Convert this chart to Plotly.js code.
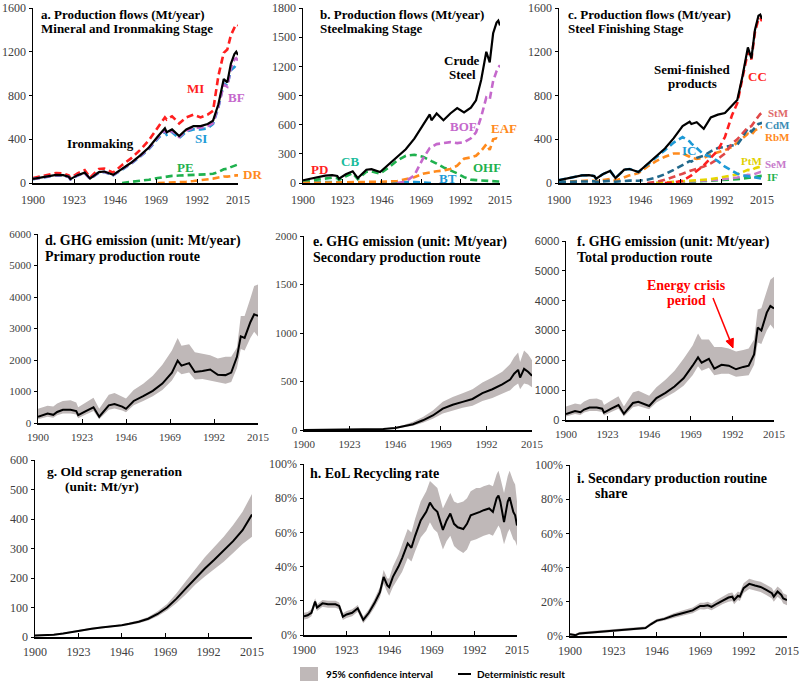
<!DOCTYPE html>
<html><head><meta charset="utf-8">
<script src="https://cdn.plot.ly/plotly-3.0.1.min.js"></script>
<style>html,body{margin:0;padding:0;background:#fff}#chart{width:800px;height:682px}</style>
</head><body><div id="chart"></div><script>
// ---------- DATA ----------
const N = null;
const yearsTop = [1900,1905,1910,1913,1917,1920,1921,1925,1929,1932,1937,1940,1945,1950,1955,1960,1965,1970,1974,1975,1978,1982,1986,1990,1994,1998,2001,2004,2007,2009,2011,2013,2014,2015];
const xTickYears = [1900,1923,1946,1969,1992,2015];
// panel a
const ironmaking = [38,52,62,75,72,58,35,72,95,40,100,105,75,130,185,250,325,425,500,465,490,430,490,520,520,540,570,720,950,920,1090,1180,1200,1170];
const MI = [45,62,75,92,88,70,45,88,118,50,128,132,95,165,225,300,390,510,600,580,610,545,600,625,600,625,660,980,1190,1220,1350,1420,1450,1440];
const SI = [35,48,58,70,68,55,33,68,90,38,95,100,70,125,175,240,310,405,470,440,465,410,470,490,490,500,540,690,910,890,1030,1060,1080,1070];
const BF = [36,50,60,72,70,56,34,70,92,39,97,102,73,127,180,245,318,415,485,450,478,420,478,505,505,520,548,700,900,880,1050,1130,1140,1120];
const PE = [N,N,N,N,N,N,N,N,N,N,N,N,N,0,8,18,30,45,58,60,65,68,70,72,75,80,85,100,125,130,145,160,165,170];
const DR = [N,N,N,N,N,N,N,N,N,N,N,N,N,N,N,N,N,0,2,3,5,8,12,18,25,35,40,50,60,58,65,68,70,70];
// panel b
const crudeSteel = [28,45,60,76,80,72,45,90,121,50,136,142,113,190,270,347,456,595,705,645,715,645,715,770,725,775,850,1060,1350,1240,1540,1650,1670,1620];
const BOF = [N,N,N,N,N,N,N,N,N,N,N,N,N,N,0,15,80,250,360,370,400,410,420,410,420,460,520,680,880,860,1050,1150,1190,1210];
const EAF = [0,1,2,3,4,4,3,5,7,4,8,10,12,15,20,40,60,95,110,112,120,128,145,178,250,263,280,330,398,340,450,460,450,430];
const OHF = [15,25,35,45,55,50,30,70,100,40,115,120,95,160,230,280,290,270,230,225,200,160,130,100,60,35,30,25,20,20,18,15,15,15];
const CB = [10,12,12,12,10,8,6,8,8,4,6,6,4,4,3,2,1,0,N,N,N,N,N,N,N,N,N,N,N,N,N,N,N,N];
const PD = [3,2,2,2,1,1,1,1,1,0,N,N,N,N,N,N,N,N,N,N,N,N,N,N,N,N,N,N,N,N,N,N,N,N];
const BT = [0,0,0,1,1,1,1,1,2,1,2,3,3,5,8,10,10,5,2,0,N,N,N,N,N,N,N,N,N,N,N,N,N,N];
// panel c
const semiFinished = [26,42,55,70,72,63,40,82,110,45,122,128,100,170,245,315,410,520,560,540,555,495,600,625,640,705,760,980,1240,1140,1400,1530,1540,1500];
const CC = [N,N,N,N,N,N,N,N,N,N,N,N,N,N,N,0,5,20,60,70,110,160,230,300,420,620,730,950,1200,1130,1380,1500,1510,1480];
const IC = [26,42,55,70,72,63,40,82,110,45,122,128,100,165,235,300,370,420,380,360,320,260,240,200,150,110,85,70,60,55,50,45,42,40];
const StM = [N,N,N,N,N,N,N,N,N,N,N,N,N,0,10,30,55,85,110,115,130,150,180,220,270,360,400,460,510,520,570,610,630,640];
const CdM = [10,12,15,15,15,15,10,18,20,12,20,22,20,30,50,80,120,165,200,195,230,250,290,320,330,340,350,420,500,470,510,540,545,550];
const RbM = [10,15,20,22,22,20,15,28,38,22,55,70,90,150,200,240,270,270,240,230,220,230,260,280,300,330,370,410,450,440,480,500,510,510];
const PtM = [N,N,N,N,N,N,N,N,N,N,N,N,N,N,0,5,10,20,25,25,28,30,35,45,55,70,80,100,120,115,135,145,150,150];
const SeM = [N,N,N,N,N,N,N,N,N,N,N,N,N,N,0,3,8,15,18,18,20,22,25,30,35,45,50,60,75,72,85,95,100,100];
const IF = [N,N,N,N,N,N,N,N,N,N,N,N,N,N,0,2,5,10,12,12,15,18,20,25,28,32,35,40,50,48,55,62,65,65];
// panels d & f
const yearsDF = [1900,1905,1908,1910,1913,1917,1920,1921,1925,1929,1932,1937,1940,1944,1946,1950,1955,1960,1965,1970,1973,1975,1979,1982,1986,1990,1994,1998,2001,2004,2006,2008,2011,2013,2015];
const ghgPrimary = [200,300,260,350,420,420,380,250,380,500,200,560,600,520,450,700,850,1020,1250,1600,1980,1820,1900,1620,1650,1700,1530,1520,1600,2100,2750,2700,3200,3450,3400];
const ghgPrimaryHi = [450,550,520,620,700,720,650,500,650,800,450,900,950,850,780,1050,1250,1500,1850,2300,2700,2450,2500,2250,2200,2150,2050,2100,2100,2400,3400,3400,3950,4350,4400];
const ghgPrimaryLo = [120,200,170,250,300,300,270,150,270,380,120,420,460,400,340,560,700,850,1050,1350,1650,1550,1600,1380,1400,1350,1280,1250,1300,1750,2350,2300,2700,2900,2750];
const ghgTotal = [200,300,260,350,420,420,380,250,380,500,205,570,610,530,470,735,910,1120,1400,1820,2100,1920,2050,1720,1850,1820,1700,1780,1820,2200,3100,3000,3600,3820,3740];
const ghgTotalHi = [450,550,520,620,700,720,650,500,650,800,450,920,980,880,810,1100,1350,1650,2050,2500,2900,2700,2700,2450,2450,2400,2300,2350,2400,2700,3700,3750,4300,4700,4800];
const ghgTotalLo = [120,200,170,250,300,300,270,150,270,380,120,430,470,410,360,590,750,930,1150,1500,1800,1650,1750,1500,1550,1550,1450,1480,1500,1850,2600,2550,3000,3200,3050];
// panel e
const yearsE = [1900,1920,1935,1940,1946,1950,1955,1960,1965,1970,1975,1980,1985,1990,1995,2000,2004,2006,2008,2009,2011,2013,2015];
const ghgSecondary = [0,2,5,10,20,35,60,100,150,220,260,290,320,380,420,470,520,580,620,540,630,600,560];
const ghgSecondaryHi = [0,3,8,15,30,50,85,135,200,290,340,380,420,490,540,600,680,750,800,700,820,780,720];
const ghgSecondaryLo = [0,1,3,7,14,25,45,75,115,170,200,230,250,300,330,370,410,450,480,420,480,470,440];
// panel g
const yearsG = [1900,1905,1910,1915,1920,1925,1930,1935,1940,1946,1950,1955,1960,1965,1970,1975,1980,1985,1990,1995,2000,2005,2010,2015];
const oldScrap = [5,6,8,12,18,24,28,32,35,40,45,52,62,78,100,130,165,200,232,262,292,325,362,415];
const oldScrapHi = [8,9,11,15,21,27,31,35,38,43,49,57,68,87,112,148,190,230,270,305,340,380,425,485];
const oldScrapLo = [2,3,5,9,15,21,25,29,32,37,41,47,56,70,90,115,145,178,205,230,255,285,315,340];
// panel h
const yearsH = [1900,1902,1904,1906,1907,1910,1913,1917,1919,1921,1923,1926,1929,1932,1935,1938,1941,1943,1945,1946,1948,1951,1953,1956,1958,1960,1963,1966,1968,1970,1972,1975,1977,1979,1981,1983,1986,1988,1990,1993,1995,1997,2000,2002,2004,2005,2006,2008,2010,2011,2013,2014,2015];
const eolRate = [11,11.5,13,19.5,16,18.5,18,18,17,10.7,12,13,15.6,8.8,13,18.5,25,34,29,28,34,40,45,53.6,51,58,67,72,77.4,74,72,61.5,67,71,65,63,62,65,70,71,72,73,74,72,80,81.5,78,66,78,80.5,72,70,64];
const eolRateHi = [13,13.5,15,21.5,18,20.5,20,20,19,12.7,14,15,17.6,10.8,15,21,28,38,33,33,40,47,53,62,60,68,78,84,90,88,86,74,79,83,78,77,78,80,84,86,86,87,88,87,94,96,92,83,93,96,90,88,78];
const eolRateLo = [9,9.5,11,17.5,14,16.5,16,16,15,8.7,10,11,13.6,6.8,11,16,22,30,25,23,28,33,37,45,43,49,57,61,66,62,60,50,55,58,52,50,48,50,55,56,57,58,59,58,62,64,62,53,60,62,56,55,52];
// panel i
const yearsI = [1900,1903,1905,1910,1915,1920,1925,1930,1935,1940,1943,1946,1950,1955,1960,1965,1969,1971,1973,1975,1978,1981,1984,1986,1987,1989,1990,1992,1995,1998,2001,2004,2007,2008,2010,2012,2013,2015];
const secShare = [1,0.5,1.5,2,2.5,3,3.5,4,4.2,4.7,7,9,10,12,13.5,15,17.6,17.5,18,17,19,21,22.5,23,21,23.5,23,28,30.5,29.5,28.7,27,25,23,26,24,22,21];
const secShareHi = [1.8,1.3,2.3,2.8,3.3,3.8,4.3,4.8,5,5.5,8,10,11,13.3,15,16.7,19.5,19.5,20,19,21.2,23.3,25,25.5,23.5,26,25.5,30.8,33.5,32.5,31.7,30,28,26,29,27,25,24];
const secShareLo = [0.2,0,0.7,1.2,1.7,2.2,2.7,3.2,3.4,3.9,6,8,9,10.7,12,13.3,15.7,15.5,16,15,16.8,18.7,20,20.5,18.5,21,20.5,25.2,27.5,26.5,25.7,24,22,20,23,21,19,18];

// ---------- LAYOUT HELPERS ----------
const W = 800, H = 682;
const px = x => x / W, py = y => 1 - y / H;
const SERIF = 'Liberation Serif, Times New Roman, serif';
const PANELS = {
  a:{n:1, x:[33,238],  y:[8,183],   r:[0,1600], dt:400,  fs:12, so:5},
  b:{n:2, x:[303,500], y:[8,183],   r:[0,1800], dt:300,  fs:12, so:5},
  c:{n:3, x:[559,762], y:[8,183],   r:[0,1600], dt:400,  fs:12, so:5},
  d:{n:4, x:[38,258],  y:[234,423], r:[0,6000], dt:1000, fs:11, so:3},
  e:{n:5, x:[304,532], y:[236,430], r:[0,2000], dt:500,  fs:11, so:3},
  f:{n:6, x:[566,774], y:[241,420], r:[0,6000], dt:1000, fs:11, so:3, yfam:'Liberation Sans, Arial, sans-serif'},
  g:{n:7, x:[35,252],  y:[460,637], r:[0,600],  dt:100,  fs:12, so:3},
  h:{n:8, x:[304,517], y:[464,635], r:[0,100],  dt:20,   fs:12, so:3, pct:true},
  i:{n:9, x:[570,787], y:[465,636], r:[0,100],  dt:20,   fs:12, so:3, pct:true}
};
const C = {red:'#FF1F1F', purple:'#C569CC', blue:'#1E9AD6', green:'#1FB14E', orange:'#FF8A1C', teal:'#1ABC9C',
  stm:'#E04848', cdm:'#22698C', ptm:'#E6D600', sem:'#C77BCB', band:'#BFB8B8'};

const layout = {width:W, height:H, margin:{l:0,r:0,t:0,b:0}, paper_bgcolor:'#fff', plot_bgcolor:'rgba(0,0,0,0)',
  showlegend:false, annotations:[], shapes:[]};
const traces = [];

Object.keys(PANELS).forEach(k => {
  const p = PANELS[k];
  const xa = 'xaxis' + (p.n === 1 ? '' : p.n), ya = 'yaxis' + (p.n === 1 ? '' : p.n);
  const tv = []; for (let v = p.r[0]; v <= p.r[1] + 1e-9; v += p.dt) tv.push(v);
  layout[xa] = {domain:[px(p.x[0]), px(p.x[1])], anchor:'y' + (p.n === 1 ? '' : p.n), range:[1900,2015],
    tickvals:xTickYears, ticks:'inside', ticklen:4, tickcolor:'#000', showline:true, linecolor:'#000', linewidth:1.5,
    showgrid:false, zeroline:false, ticklabelstandoff:p.so, ticklabeloverflow:'allow',
    tickfont:{family:SERIF, size:p.fs, color:'#404040'}, fixedrange:true};
  layout[ya] = {domain:[py(p.y[1]), py(p.y[0])], anchor:'x' + (p.n === 1 ? '' : p.n), range:p.r,
    tickmode:'array', tickvals:tv, ticktext:tv.map(v => p.pct ? v + '%' : String(v)),
    ticks:'outside', ticklen:3, tickcolor:'#000', showline:true, linecolor:'#000', linewidth:1.5,
    showgrid:false, zeroline:false, ticklabeloverflow:'allow',
    tickfont:{family:p.yfam || SERIF, size:p.fs, color:'#404040'}, fixedrange:true};
});

function ax(k){ const n = PANELS[k].n; return n === 1 ? ['x','y'] : ['x'+n, 'y'+n]; }
function line(k, xs, ys, color, dashed, width){
  const [xr, yr] = ax(k);
  traces.push({type:'scatter', mode:'lines', x:xs, y:ys, xaxis:xr, yaxis:yr, hoverinfo:'skip',
    line:{color:color, width:width || (dashed ? 2.6 : 2.2), dash:dashed ? '7px,4px' : 'solid'}, connectgaps:false});
}
function band(k, xs, lo, hi, mid){
  const [xr, yr] = ax(k);
  traces.push({type:'scatter', mode:'lines', x:xs, y:lo, xaxis:xr, yaxis:yr, line:{width:0, color:C.band}, hoverinfo:'skip'});
  traces.push({type:'scatter', mode:'lines', x:xs, y:hi, xaxis:xr, yaxis:yr, line:{width:0, color:C.band}, fill:'tonexty', fillcolor:C.band, hoverinfo:'skip'});
  line(k, xs, mid, '#000', false, 2);
}
function txt(t, x, y, color, size, anchor, opts){
  layout.annotations.push(Object.assign({text:t, x:px(x), y:py(y), xref:'paper', yref:'paper', showarrow:false,
    xanchor:anchor || 'center', yanchor:'middle', font:{family:SERIF, size:size || 13, color:color || '#000'}}, opts || {}));
}

// ---------- PANEL a ----------
line('a', yearsTop, PE, C.green, true);
line('a', yearsTop, DR, C.orange, true);
line('a', yearsTop, MI, C.red, true);
line('a', yearsTop, SI, C.blue, true);
line('a', yearsTop, BF, C.purple, true);
line('a', yearsTop, ironmaking, '#000', false);
// ---------- PANEL b ----------
line('b', yearsTop, PD, C.red, true);
line('b', yearsTop, CB, C.teal, true);
line('b', yearsTop, BT, C.blue, true);
line('b', yearsTop, OHF, C.green, true);
line('b', yearsTop, EAF, C.orange, true);
line('b', yearsTop, BOF, C.purple, true);
line('b', yearsTop, crudeSteel, '#000', false);
// ---------- PANEL c ----------
line('c', yearsTop, IF, C.green, true);
line('c', yearsTop, SeM, C.sem, true);
line('c', yearsTop, PtM, C.ptm, true);
line('c', yearsTop, RbM, C.orange, true);
line('c', yearsTop, CdM, C.cdm, true);
line('c', yearsTop, StM, C.stm, true);
line('c', yearsTop, IC, C.blue, true);
line('c', yearsTop, CC, C.red, true);
line('c', yearsTop, semiFinished, '#000', false);
// ---------- bands ----------
band('d', yearsDF, ghgPrimaryLo, ghgPrimaryHi, ghgPrimary);
band('e', yearsE, ghgSecondaryLo, ghgSecondaryHi, ghgSecondary);
band('f', yearsDF, ghgTotalLo, ghgTotalHi, ghgTotal);
band('g', yearsG, oldScrapLo, oldScrapHi, oldScrap);
band('h', yearsH, eolRateLo, eolRateHi, eolRate);
band('i', yearsI, secShareLo, secShareHi, secShare);

// ---------- titles ----------
const B = s => '<b>' + s + '</b>';
txt(B('a. Production flows (Mt/year)'), 39, 15, '#000', 13, 'left');
txt(B('Mineral and Ironmaking Stage'), 39, 29, '#000', 13, 'left');
txt(B('b. Production flows (Mt/year)'), 318, 15, '#000', 13, 'left');
txt(B('Steelmaking Stage'), 318, 29, '#000', 13, 'left');
txt(B('c. Production flows (Mt/year)'), 566, 15, '#000', 13, 'left');
txt(B('Steel Finishing Stage'), 566, 29, '#000', 13, 'left');
txt(B('d. GHG emission (unit: Mt/year)'), 43, 241, '#000', 14, 'left');
txt(B('Primary production route'), 43, 256, '#000', 14, 'left');
txt(B('e. GHG emission (unit: Mt/year)'), 311, 242, '#000', 14, 'left');
txt(B('Secondary production route'), 311, 257, '#000', 14, 'left');
txt(B('f. GHG emission (unit: Mt/year)'), 575, 242, '#000', 14, 'left');
txt(B('Total production route'), 575, 257, '#000', 14, 'left');
txt(B('g. Old scrap generation'), 45, 471, '#000', 13.5, 'left');
txt(B('(unit: Mt/yr)'), 63, 486, '#000', 13.5, 'left');
txt(B('h. EoL Recycling rate'), 308, 473, '#000', 14, 'left');
txt(B('i. Secondary production routine'), 575, 478, '#000', 14, 'left');
txt(B('share'), 593, 493, '#000', 14, 'left');

// ---------- series labels ----------
txt(B('MI'), 195, 88, C.red); txt(B('BF'), 236, 98, C.purple); txt(B('SI'), 201, 138, C.blue);
txt(B('Ironmaking'), 100, 143, '#000'); txt(B('PE'), 185, 167, C.green); txt(B('DR'), 252, 174, C.orange);
txt(B('Crude'), 462, 60, '#000'); txt(B('Steel'), 462, 74, '#000'); txt(B('BOF'), 463, 126, C.purple);
txt(B('EAF'), 504, 128, C.orange); txt(B('OHF'), 487, 167, C.green); txt(B('BT'), 448, 178, C.blue);
txt(B('CB'), 350, 161, C.teal); txt(B('PD'), 319, 169, C.red);
txt(B('Semi-finished'), 692, 69, '#000'); txt(B('products'), 692, 83, '#000'); txt(B('CC'), 757, 76, C.red);
txt(B('StM'), 778, 113, '#E06A6A', 11); txt(B('CdM'), 777, 125, '#3A8DB5', 11); txt(B('RbM'), 777, 137, C.orange, 11);
txt(B('IC'), 689, 150, C.blue); txt(B('PtM'), 751, 161, '#E0D000', 11); txt(B('SeM'), 776, 164, C.sem, 11);
txt(B('IF'), 772, 177, C.green, 11);

// energy crisis annotation (text + arrow drawn as shapes)
txt(B('Energy crisis'), 686, 285, '#FF0000', 14);
txt(B('period'), 686, 300, '#FF0000', 14);
(function(){
  const t = [713, 298], h = [733, 348];
  const dx = h[0]-t[0], dy = h[1]-t[1], L = Math.hypot(dx, dy), ux = dx/L, uy = dy/L;
  const bl = 9, hw = 4;
  const bx = h[0]-ux*bl, by = h[1]-uy*bl;
  layout.shapes.push({type:'line', xref:'paper', yref:'paper', x0:px(t[0]), y0:py(t[1]), x1:px(bx), y1:py(by), line:{color:'#FF0000', width:1.5}});
  const p1 = [bx - uy*hw, by + ux*hw], p2 = [bx + uy*hw, by - ux*hw];
  layout.shapes.push({type:'path', xref:'paper', yref:'paper',
    path:`M ${px(h[0])} ${py(h[1])} L ${px(p1[0])} ${py(p1[1])} L ${px(p2[0])} ${py(p2[1])} Z`,
    fillcolor:'#FF0000', line:{color:'#FF0000', width:1}});
})();

// legend
layout.shapes.push({type:'rect', xref:'paper', yref:'paper', x0:px(300), x1:px(318), y0:py(681), y1:py(667), fillcolor:C.band, line:{width:0}});
layout.shapes.push({type:'line', xref:'paper', yref:'paper', x0:px(458), x1:px(471), y0:py(674), y1:py(674), line:{color:'#000', width:2}});
txt('<b>95% confidence interval</b>', 324, 674, '#000', 10, 'left', {font:{family:'Lato, Liberation Sans, sans-serif', size:10, color:'#000'}});
txt('<b>Deterministic result</b>', 475, 674, '#000', 10, 'left', {font:{family:'Lato, Liberation Sans, sans-serif', size:10, color:'#000'}});

Plotly.newPlot('chart', traces, layout, {staticPlot:true, displayModeBar:false});
</script></body></html>
